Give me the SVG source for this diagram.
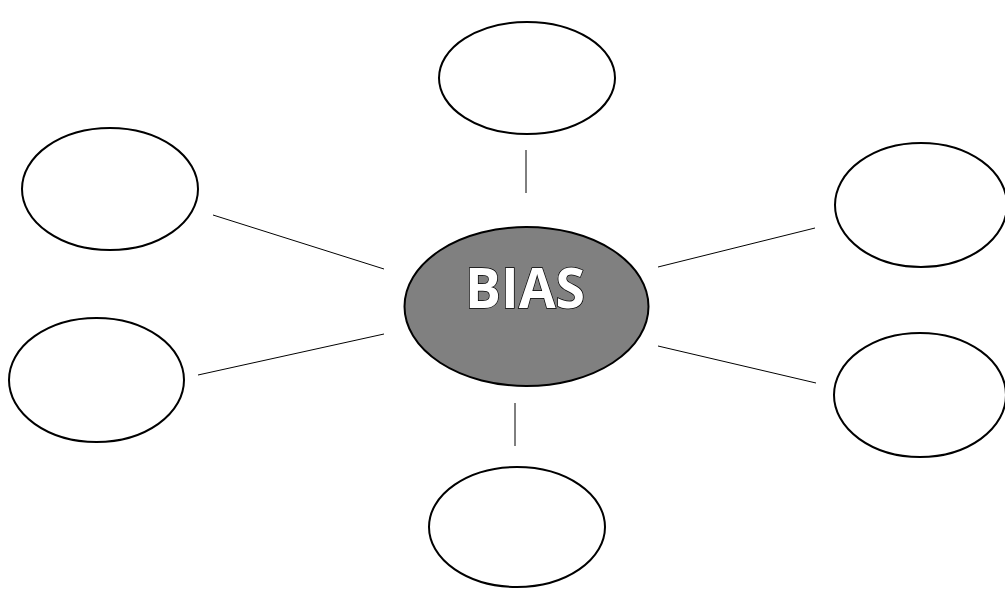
<svg xmlns="http://www.w3.org/2000/svg" width="1005" height="589" viewBox="0 0 1005 589">
<style>
.n{fill:#fff;stroke:#000;stroke-width:2}
.c{fill:#808080;stroke:#000;stroke-width:2}
.l{stroke:#000;stroke-width:1;fill:none}
.t{font-family:"Open Sans","Liberation Sans",sans-serif;font-weight:bold;font-size:55px;fill:#fff;stroke:#000;stroke-width:1.5;paint-order:stroke}
</style>
<rect width="1005" height="589" fill="#fff"/>
<g id="connectors">
<line class="l" x1="526" y1="150" x2="526" y2="193"/>
<line class="l" x1="213" y1="215" x2="384" y2="269"/>
<line class="l" x1="198" y1="375" x2="384" y2="334"/>
<line class="l" x1="658" y1="267" x2="815" y2="228"/>
<line class="l" x1="658" y1="346" x2="816" y2="383"/>
<line class="l" x1="515" y1="403" x2="515" y2="446"/>
</g>
<g id="center"><ellipse class="c" cx="526.5" cy="306.5" rx="122" ry="79.5"/>
<text class="t" x="525" y="308" text-anchor="middle" textLength="120" lengthAdjust="spacingAndGlyphs">BIAS</text></g>
<g id="top"><ellipse class="n" cx="527" cy="78" rx="88" ry="56"/></g>
<g id="left-top"><ellipse class="n" cx="110" cy="189" rx="88" ry="61"/></g>
<g id="left-bottom"><ellipse class="n" cx="96.5" cy="380" rx="87.5" ry="62"/></g>
<g id="right-top"><ellipse class="n" cx="921" cy="205" rx="86" ry="62"/></g>
<g id="right-bottom"><ellipse class="n" cx="920" cy="395" rx="86" ry="62"/></g>
<g id="bottom"><ellipse class="n" cx="517" cy="527" rx="88" ry="60"/></g>
</svg>
